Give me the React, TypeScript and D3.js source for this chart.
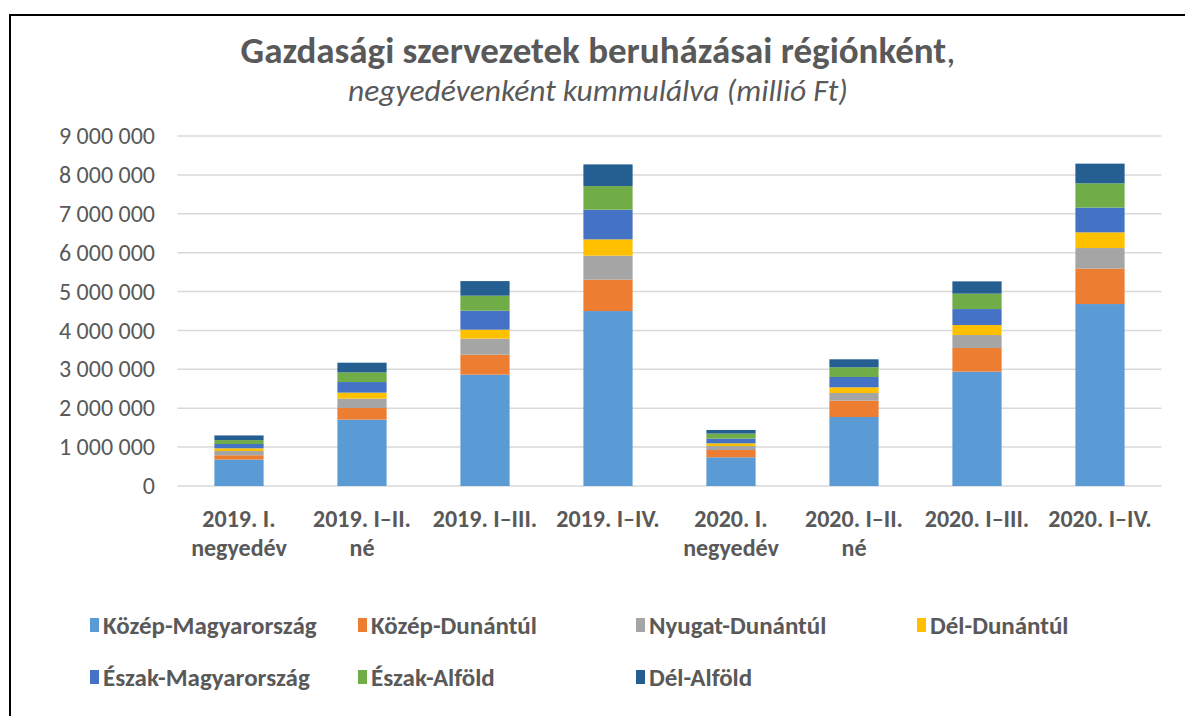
import React from "react";
import * as d3 from "d3";

const categories: string[][] = [
  ["2019. I.", "negyedév"],
  ["2019. I–II.", "né"],
  ["2019. I–III."],
  ["2019. I–IV."],
  ["2020. I.", "negyedév"],
  ["2020. I–II.", "né"],
  ["2020. I–III."],
  ["2020. I–IV."],
];

const seriesNames = [
  "Közép-Magyarország",
  "Közép-Dunántúl",
  "Nyugat-Dunántúl",
  "Dél-Dunántúl",
  "Észak-Magyarország",
  "Észak-Alföld",
  "Dél-Alföld",
];

const kozepMagyarorszag = [680000, 1707000, 2864000, 4499000, 738000, 1774000, 2941000, 4679000];
const kozepDunantul = [110000, 298000, 514000, 807000, 188000, 422000, 607000, 910000];
const nyugatDunantul = [110000, 242000, 411000, 617000, 103000, 195000, 334000, 530000];
const delDunantul = [70000, 154000, 231000, 419000, 69000, 147000, 257000, 404000];
const eszakMagyarorszag = [110000, 272000, 488000, 763000, 121000, 265000, 411000, 635000];
const eszakAlfold = [100000, 249000, 386000, 607000, 129000, 249000, 396000, 625000];
const delAlfold = [120000, 249000, 375000, 558000, 93000, 206000, 316000, 506000];

const yTicks = [0, 1000000, 2000000, 3000000, 4000000, 5000000, 6000000, 7000000, 8000000, 9000000];

const colors = ["#5B9BD5", "#ED7D31", "#A5A5A5", "#FFC000", "#4472C4", "#70AD47", "#255E91"];

const seriesValues = [
  kozepMagyarorszag,
  kozepDunantul,
  nyugatDunantul,
  delDunantul,
  eszakMagyarorszag,
  eszakAlfold,
  delAlfold,
];

const W = 1185;
const H = 716;
const FONT = "Carlito, 'Liberation Sans', Arial, sans-serif";
const TEXT = "#595959";

export default function App() {
  const rows = categories.map((c, i) => {
    const r: Record<string, number | string> = { cat: String(i) };
    seriesNames.forEach((s, k) => (r[s] = seriesValues[k][i]));
    return r;
  });
  const stack = d3.stack<Record<string, number | string>>().keys(seriesNames)(rows as any);

  const x = d3
    .scaleBand<string>()
    .domain(categories.map((_, i) => String(i)))
    .range([177.5, 1161.5])
    .paddingInner(0.6)
    .paddingOuter(0.3);
  const y = d3.scaleLinear().domain([0, 9000000]).range([486, 136]);
  const fmt = (v: number) => d3.format(",")(v).replace(/,/g, " ");

  const legendCols = [90, 358, 636, 917];
  const legendRows = [625, 677];

  return (
    <svg
      width={W}
      height={H}
      style={{ position: "absolute", left: 0, top: 0, background: "#fff" }}
      fontFamily={FONT}
    >
      <rect x={0} y={0} width={W} height={H} fill="#fff" />
      <path d={`M10,${H + 5} V15 H${W + 5}`} fill="none" stroke="#000" strokeWidth={2} />

      <text x={598} y={63} textAnchor="middle" fill={TEXT} fontSize={37}>
        <tspan fontWeight="bold">Gazdasági szervezetek beruházásai régiónként</tspan>
        <tspan>,</tspan>
      </text>
      <text x={598} y={101} textAnchor="middle" fill={TEXT} fontSize={31.5} fontStyle="italic">
        negyedévenként kummulálva (millió Ft)
      </text>

      {yTicks.map((t) => (
        <g key={t}>
          <line x1={177.5} x2={1161.5} y1={y(t)} y2={y(t)} stroke="#D9D9D9" strokeWidth={1.5} />
          <text x={155} y={y(t)} dy="0.34em" textAnchor="end" fill={TEXT} fontSize={24}>
            {fmt(t)}
          </text>
        </g>
      ))}

      {stack.map((layer, k) => (
        <g key={layer.key} fill={colors[k]}>
          {layer.map((d, i) => (
            <rect
              key={i}
              x={x(String(i))}
              width={x.bandwidth()}
              y={y(d[1])}
              height={y(d[0]) - y(d[1])}
            />
          ))}
        </g>
      ))}

      {categories.map((lines, i) => (
        <text
          key={i}
          x={(x(String(i)) as number) + x.bandwidth() / 2}
          y={527}
          textAnchor="middle"
          fill={TEXT}
          fontSize={24}
          fontWeight="bold"
        >
          {lines.map((l, j) => (
            <tspan key={j} x={(x(String(i)) as number) + x.bandwidth() / 2} dy={j === 0 ? 0 : 29}>
              {l}
            </tspan>
          ))}
        </text>
      ))}

      {seriesNames.map((s, k) => {
        const cx = legendCols[k % 4];
        const cy = legendRows[Math.floor(k / 4)];
        return (
          <g key={s}>
            <rect x={cx} y={cy - 7} width={9} height={14} fill={colors[k]} />
            <text x={cx + 13} y={cy} dy="0.34em" fill={TEXT} fontSize={25} fontWeight="bold">
              {s}
            </text>
          </g>
        );
      })}
    </svg>
  );
}
